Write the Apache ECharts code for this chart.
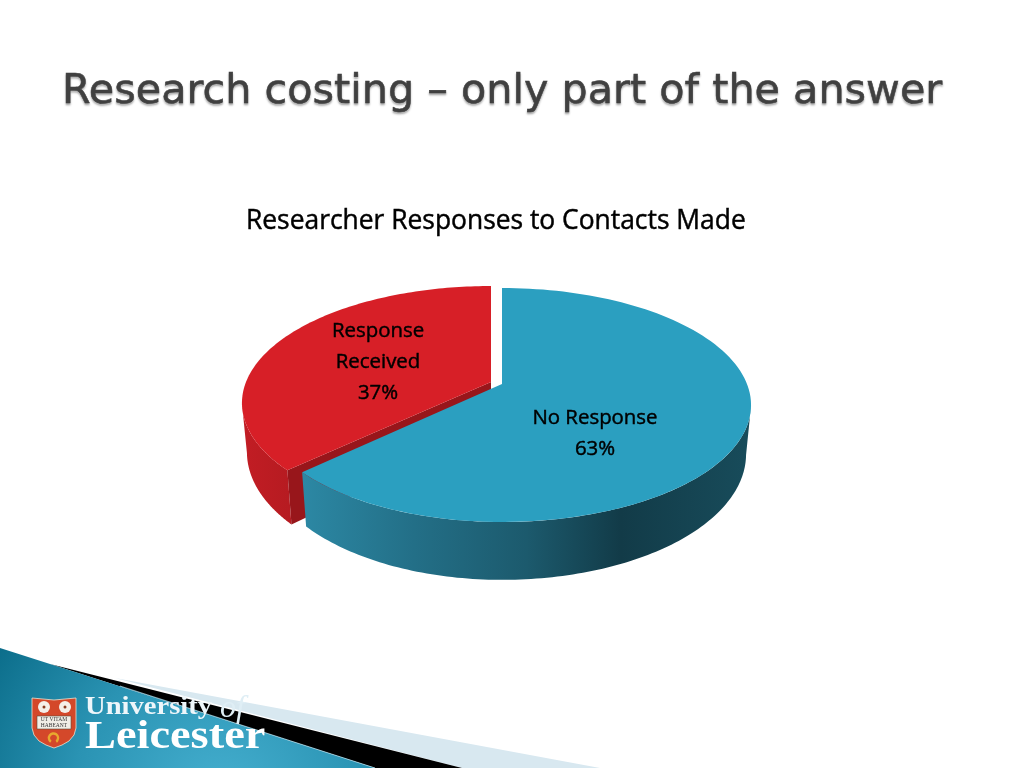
<!DOCTYPE html>
<html><head><meta charset="utf-8">
<style>html,body{margin:0;padding:0;background:#fff}#c{width:1024px;height:768px}</style>
<script src="https://cdn.jsdelivr.net/npm/echarts@6/dist/echarts.min.js"></script>
</head><body><div id="c"></div>
<script>
var categories = ['Response Received', 'No Response'];
var values = [37, 63];
var labelLines = [['Response', 'Received'], ['No Response']];
var slideTitle = 'Research costing \u2013 only part of the answer';
var chartTitle = 'Researcher Responses to Contacts Made';

var total = values.reduce(function (a, b) { return a + b; }, 0);
// perspective view of the pie disc
var view = { cx: 502, cy: 384, a: 245, b: 113.2, k: 0.1795, depth: 47.5, shrink: 0.98, wallFrom: 0.28, wallTo: 0.72 };
var explode = [[-11, -2], [0, 0]];
var leftReach = [245, 240.5];
var labelPos = [[378, 331], [595, 418]];
var looks = [
  { top: '#d71f27', cut: '#98161b', wall: [[0, '#c21d24'], [1, '#b61b21']] },
  { top: '#2b9fc0', cut: '#1d6c83', wall: [[0, '#2c88a4'], [0.25, '#236f87'], [0.5, '#1c5a6d'], [0.71, '#123b48'], [1, '#184c5b']] }
];
function project(frac, low, i) {
  var t = frac * 2 * Math.PI, u = Math.sin(t), v = Math.cos(t), d = 1 + view.k * v;
  var x = (u < 0 ? leftReach[i] : view.a) * u / d, y = -view.b * v / d;
  return low ? [view.cx + x * view.shrink, view.cy + y + view.depth / d] : [view.cx + x, view.cy + y];
}
function arc(f0, f1, low, s) {
  var pts = [], n = 120;
  for (var i = 0; i <= n; i++) pts.push(project(f0 + (f1 - f0) * i / n, low, s));
  return pts;
}
function sliceStart(i) { // No Response starts at 12 o'clock, clockwise
  var s = 0;
  for (var j = values.length - 1; j > i; j--) s += values[j];
  return s / total;
}
function moved(pts, o) { return pts.map(function (p) { return [p[0] + o[0], p[1] + o[1]]; }); }
function poly(pts, fill) { return { type: 'polygon', shape: { points: pts }, style: { fill: fill, stroke: null } }; }

function renderItem(params, api) {
  var i = params.dataIndex, f0 = sliceStart(i), f1 = f0 + api.value(0) / total;
  var o = explode[i], L = looks[i], kids = [];
  var w0 = Math.max(f0, view.wallFrom), w1 = Math.min(f1, view.wallTo);
  var wall = arc(w0, w1, false, i).concat(arc(w0, w1, true, i).reverse());
  kids.push(poly(moved(wall, o), new echarts.graphic.LinearGradient(0, 0, 1, 0, L.wall.map(function (c) { return { offset: c[0], color: c[1] }; }))));
  if (i === 0) {
    var apexT = [view.cx, view.cy];
    var apexB = [view.cx, view.cy + view.depth];
    kids.push(poly(moved([apexT, project(f0, false, i), project(f0, true, i), apexB], o), L.cut));
  }
  kids.push(poly(moved([[view.cx, view.cy]].concat(arc(f0, f1, false, i)), o), L.top));
  var lines = labelLines[i].concat([api.value(0) + '%']);
  lines.forEach(function (s, n) {
    kids.push({ type: 'text', style: { x: labelPos[i][0], y: labelPos[i][1] + n * 31, text: s, fill: '#000',
      stroke: '#000', lineWidth: 0.45,
      font: '20.4px "Open Sans", sans-serif', align: 'center', verticalAlign: 'middle' } });
  });
  return { type: 'group', children: kids };
}

var chart = echarts.init(document.getElementById('c'), null, { renderer: 'canvas', width: 1024, height: 768 });
var teal = new echarts.graphic.RadialGradient(220, 800, 270, [
  { offset: 0, color: '#46b0d0' }, { offset: 0.55, color: '#2a93b3' }, { offset: 1, color: '#0b6d8a' }], true);
chart.setOption({
  animation: false,
  backgroundColor: '#ffffff',
  title: [
    { text: slideTitle, left: 62, top: 72, padding: 0,
      textStyle: { fontFamily: 'DejaVu Sans', fontWeight: 'normal', fontSize: 41.3, color: '#404040',
        textBorderColor: '#404040', textBorderWidth: 0.5,
        textShadowColor: 'rgba(0,0,0,0.3)', textShadowBlur: 2, textShadowOffsetY: 2 } },
    { text: chartTitle, left: 246, top: 208, padding: 0,
      textStyle: { fontFamily: 'Open Sans', fontWeight: 'normal', fontSize: 26.4, color: '#000',
        textBorderColor: '#000', textBorderWidth: 0.45 } }
  ],
  graphic: { elements: [
    { type: 'polygon', silent: true, z: -3, shape: { points: [[115, 678], [600, 768], [462, 768]] }, style: { fill: '#d8e8f0' } },
    { type: 'polygon', silent: true, z: -2, shape: { points: [[50, 664], [462, 768], [375, 768]] }, style: { fill: '#000' } },
    { type: 'polygon', silent: true, z: -1, shape: { points: [[0, 648], [375, 768], [0, 768]] }, style: { fill: teal } },
    { type: 'line', silent: true, z: 0, shape: { x1: 120, y1: 686, x2: 375, y2: 768 }, style: { stroke: '#a8d6e4', lineWidth: 0.8 } },
    // logo shield
    { type: 'polygon', silent: true, shape: { points: [[32, 698], [54, 700], [76, 698], [76, 728], [74, 735], [69, 741], [62, 745], [54, 748], [46, 745], [39, 741], [34, 735], [32, 728]] }, style: { fill: '#d4482a', stroke: '#e9e2d0', lineWidth: 0.8 } },
    { type: 'circle', silent: true, shape: { cx: 44, cy: 707, r: 6 }, style: { fill: '#f4efe8' } },
    { type: 'circle', silent: true, shape: { cx: 65, cy: 707, r: 6 }, style: { fill: '#f4efe8' } },
    { type: 'circle', silent: true, shape: { cx: 44, cy: 707, r: 1.5 }, style: { fill: '#8a3a1e' } },
    { type: 'circle', silent: true, shape: { cx: 65, cy: 707, r: 1.5 }, style: { fill: '#8a3a1e' } },
    { type: 'rect', silent: true, shape: { x: 37, y: 716, width: 34, height: 13 }, style: { fill: '#f1eee6', stroke: '#5a4a3a', lineWidth: 0.6 } },
    { type: 'text', silent: true, style: { x: 54, y: 719.5, text: 'UT VITAM', fill: '#333', font: '5.5px "Liberation Serif"', align: 'center', verticalAlign: 'middle' } },
    { type: 'text', silent: true, style: { x: 54, y: 725.5, text: 'HABEANT', fill: '#333', font: '5.5px "Liberation Serif"', align: 'center', verticalAlign: 'middle' } },
    { type: 'arc', silent: true, shape: { cx: 53.5, cy: 738, r: 4.5, startAngle: 2.2, endAngle: 0.94, clockwise: true }, style: { fill: null, stroke: '#e8a92e', lineWidth: 2.5 } },
    { type: 'text', silent: true, x: 85, y: 707, scaleX: 1.1, style: { x: 0, y: 0, text: 'University', fill: '#eef6fa', font: 'bold 26px "Liberation Serif"', align: 'left', verticalAlign: 'middle' } },
    { type: 'text', silent: true, style: { x: 220, y: 709, text: 'of', fill: '#dfeef5', font: 'italic 32px "Liberation Serif"', align: 'left', verticalAlign: 'middle' } },
    { type: 'text', silent: true, x: 85, y: 738, scaleX: 1.16, style: { x: 0, y: 0, text: 'Leicester', fill: '#ffffff', font: 'bold 40px "Liberation Serif"', align: 'left', verticalAlign: 'middle' } }
  ] },
  series: [{
    type: 'custom', coordinateSystem: 'none', renderItem: renderItem, silent: true,
    data: categories.map(function (c, i) { return { name: c, value: [values[i]] }; })
  }]
});
</script></body></html>
